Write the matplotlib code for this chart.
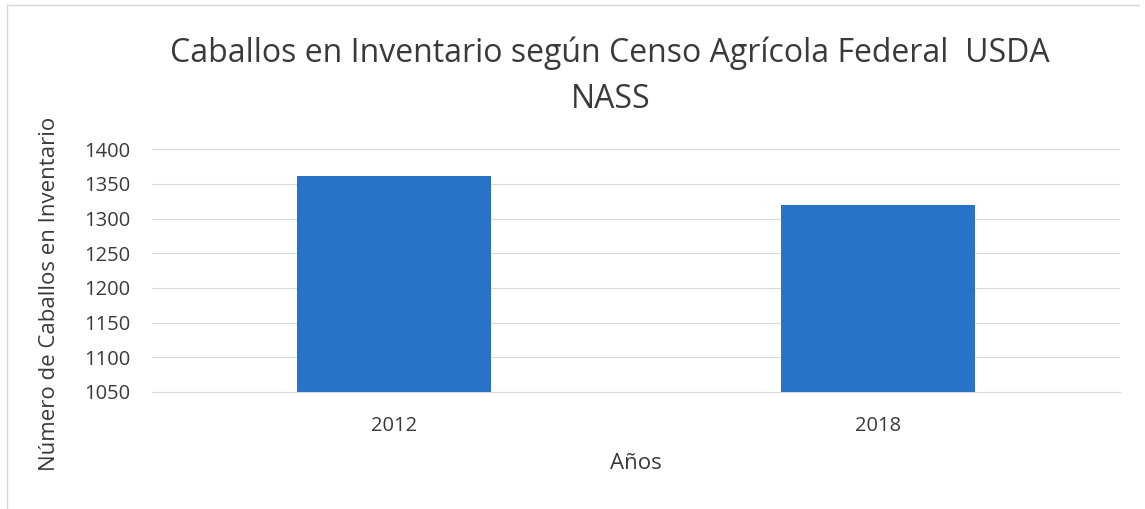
import matplotlib.pyplot as plt
from matplotlib.lines import Line2D

years = ['2012', '2018']
horses = [1361, 1319]

plt.rcParams['font.family'] = ['Open Sans', 'DejaVu Sans']

fig = plt.figure(figsize=(11.45, 5.09), dpi=100)
ax = fig.add_axes([0.133, 0.230, 0.845, 0.477])

ax.bar(years, horses, width=0.4, color='#2873C7', zorder=3)
ax.set_ylim(1050, 1400)
ax.set_xlim(-0.5, 1.5)
ax.set_yticks(range(1050, 1401, 50))
ax.grid(axis='y', color='#dadada', linewidth=0.8, zorder=0)
for side in ['top', 'right', 'left']:
    ax.spines[side].set_visible(False)
ax.spines['bottom'].set_color('#dadada')
ax.tick_params(axis='y', length=0, labelsize=14.5, colors='#3a3a3a', pad=16)
ax.tick_params(axis='x', length=0, labelsize=14.5, colors='#3a3a3a', pad=17)

# axis titles and chart title placed in figure coords
fig.text(0.555, 0.090, 'Años', fontsize=16, color='#3a3a3a', ha='center', va='center')
fig.text(0.043, 0.422, 'Número de Caballos en Inventario', fontsize=16, color='#3a3a3a',
         rotation=90, ha='center', va='center')
fig.text(0.533, 0.850, 'Caballos en Inventario según Censo Agrícola Federal  USDA\nNASS',
         fontsize=23, color='#3a3a3a', ha='center', va='center', linespacing=1.5)

# faint frame of the scanned chart area
fig.add_artist(Line2D([0.006, 0.995], [0.99, 0.99], color='#d8d8d8', linewidth=1))
fig.add_artist(Line2D([0.006, 0.006], [0.0, 0.99], color='#d8d8d8', linewidth=1))

fig.savefig('out.png', dpi=100, facecolor='white')
